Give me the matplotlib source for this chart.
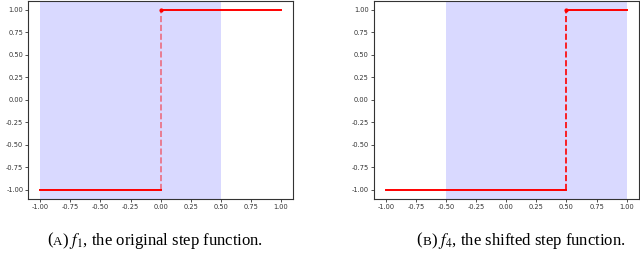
#!/usr/bin/env python3
import numpy as np
import matplotlib
matplotlib.use('Agg')
import matplotlib.pyplot as plt

OUTPUTFILE = "out.png"

# step functions: jump location, shaded interval, caption
x_range = [-1.0, 1.0]
low_value = -1.0
high_value = 1.0
steps = [0.0, 0.5]
shade_spans = [(-1.0, 0.5), (-0.5, 1.0)]
dash_alpha = [0.5, 1.0]
labels = ["A", "B"]
captions = [r") $f_1$, the original step function.",
            r") $f_4$, the shifted step function."]
xticks = np.arange(-1.0, 1.01, 0.25)
yticks = np.arange(-1.0, 1.01, 0.25)

plt.rcParams['mathtext.fontset'] = 'stix'
CAPSIZE = 12


def caption(fig, center, y, letter, rest):
    # "(" + small-caps letter + rest, centred as one line
    r = fig.canvas.get_renderer()
    parts = [("(", CAPSIZE), (letter, CAPSIZE * 0.78), (rest, CAPSIZE)]
    texts = []
    for s, fs in parts:
        t = fig.text(0, y, s, ha='left', va='baseline', fontsize=fs,
                     family='Liberation Serif')
        texts.append(t)
    widths = [t.get_window_extent(r).width / fig.bbox.width for t in texts]
    x = center - sum(widths) / 2
    for t, w in zip(texts, widths):
        t.set_x(x)
        x += w


def main():
    fig = plt.figure(figsize=(6.4, 2.59), dpi=100)
    lefts = [0.044, 0.584]
    centers = [155 / 640, 521 / 640]
    for i in range(2):
        ax = fig.add_axes([lefts[i], 0.232, 0.414, 0.766])
        s = steps[i]
        ax.axvspan(shade_spans[i][0], shade_spans[i][1], color='blue',
                   alpha=0.15, lw=0)
        ax.plot([x_range[0], s], [low_value, low_value], color='red', lw=1.4)
        ax.plot([s, x_range[1]], [high_value, high_value], color='red', lw=1.4)
        ax.plot([s, s], [low_value, high_value], color='red', lw=1.2,
                ls='--', alpha=dash_alpha[i])
        ax.plot([s], [high_value], 'o', color='red', ms=2)
        ax.set_xlim(-1.1, 1.1)
        ax.set_ylim(-1.1, 1.1)
        ax.set_xticks(xticks)
        ax.set_yticks(yticks)
        ax.set_xticklabels(["%.2f" % t for t in xticks])
        ax.set_yticklabels(["%.2f" % t for t in yticks])
        ax.tick_params(labelsize=4.8, length=2, width=0.6, pad=1.5,
                       colors='#333333')
        for sp in ax.spines.values():
            sp.set_linewidth(0.8)
            sp.set_color('#333333')
        caption(fig, centers[i], 0.055, labels[i], captions[i])

    fig.savefig(OUTPUTFILE, dpi=100)


if __name__ == "__main__":
    main()
